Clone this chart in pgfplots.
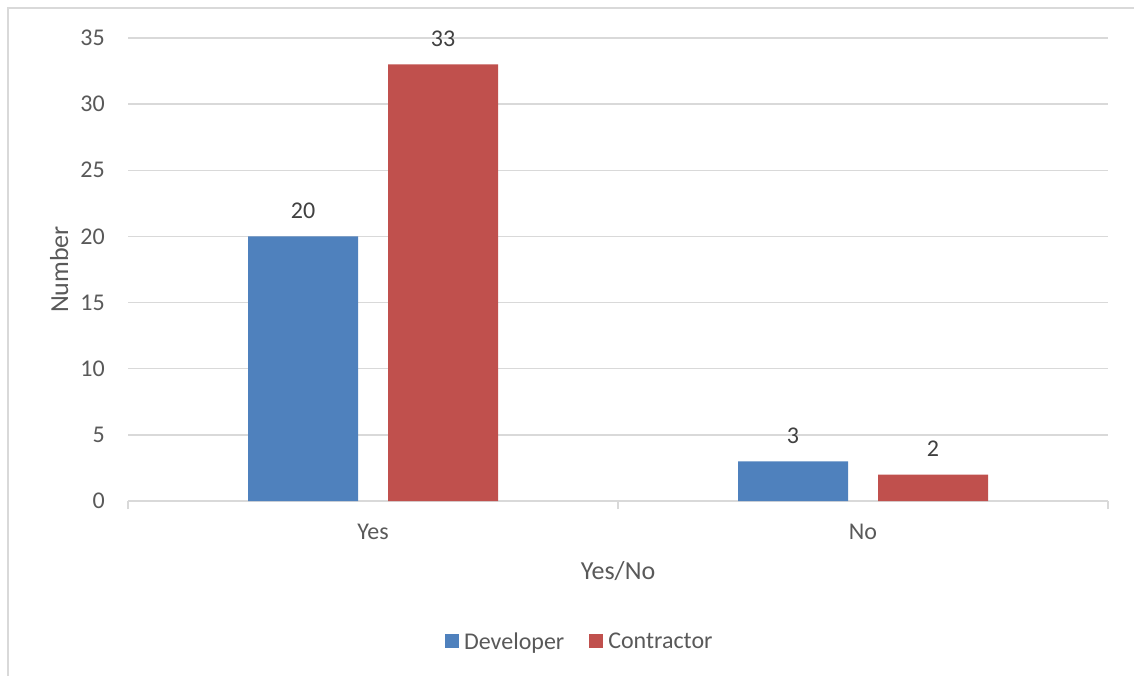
\documentclass[border=0pt]{standalone}
\usepackage{fontspec}
\setmainfont{Carlito}
\usepackage{pgfplots}
\pgfplotsset{compat=1.18}
\definecolor{devblue}{HTML}{4F81BD}
\definecolor{conred}{HTML}{C0504D}
\definecolor{gridcol}{HTML}{D9D9D9}
\definecolor{txtgray}{HTML}{595959}
\definecolor{lblgray}{HTML}{404040}
\begin{document}
\fontsize{24}{29}\selectfont%
\begin{tikzpicture}[x=1pt,y=1pt]
\path[use as bounding box] (0,0) rectangle (1134,675);
\draw[gridcol, line width=1.5pt] (8,-5) -- (8,667) -- (1140,667);
\begin{axis}[
 at={(128pt,174pt)}, anchor=south west,
 scale only axis, width=980pt, height=463pt,
 xmin=-0.5, xmax=1.5, ymin=0, ymax=35,
 ybar=30pt, bar width=110pt,
 xtick={0,1}, xticklabels={Yes,No},
 minor xtick={-0.5,0.5,1.5},
 ytick={0,5,...,35},
 tick align=outside, major tick length=0pt, minor tick length=8pt,
 minor x tick style={draw=gridcol, line width=1.5pt},
 major tick style={draw=none},
 axis x line*=bottom, axis y line*=left,
 x axis line style={draw=gridcol, line width=2pt, -},
 y axis line style={draw=none, -},
 ymajorgrids, grid style={draw=gridcol, line width=1.5pt},
 tick label style={font=\fontsize{24}{29}\selectfont, text=txtgray, inner sep=0pt},
 /pgf/number format/assume math mode=true,
 yticklabel style={anchor=east, xshift=-23pt},
 xticklabel style={anchor=north, yshift=-23pt},
 xlabel={Yes/No},
 xlabel style={at={([yshift=-78pt]axis description cs:0.5,0)}, anchor=base, text=txtgray, font=\fontsize{26}{31}\selectfont, inner sep=0pt},
 ylabel={Number},
 ylabel style={at={([xshift=-60pt]axis description cs:0,0.5)}, anchor=base, text=txtgray, font=\fontsize{26}{31}\selectfont, inner sep=0pt},
 nodes near coords,
 every node near coord/.append style={font=\fontsize{24}{29}\selectfont, text=lblgray, inner sep=0pt, yshift=17.5pt},
 legend columns=2,
 legend style={at={(axis description cs:0.46,-0.3067)}, anchor=center, draw=none, fill=none, inner sep=0pt,
   font=\fontsize{24}{29}\selectfont, text=txtgray, nodes={inner sep=0pt},
   column sep=5pt, /tikz/every even column/.append style={column sep=25pt}},
 legend image code/.code={\fill[#1, draw=none] (0pt,-5pt) rectangle (14pt,9pt);},
]
\addplot[fill=devblue, draw=none] coordinates {(0,20) (1,3)};
\addplot[fill=conred, draw=none] coordinates {(0,33) (1,2)};
\legend{Developer, Contractor}
\end{axis}
\end{tikzpicture}
\end{document}
